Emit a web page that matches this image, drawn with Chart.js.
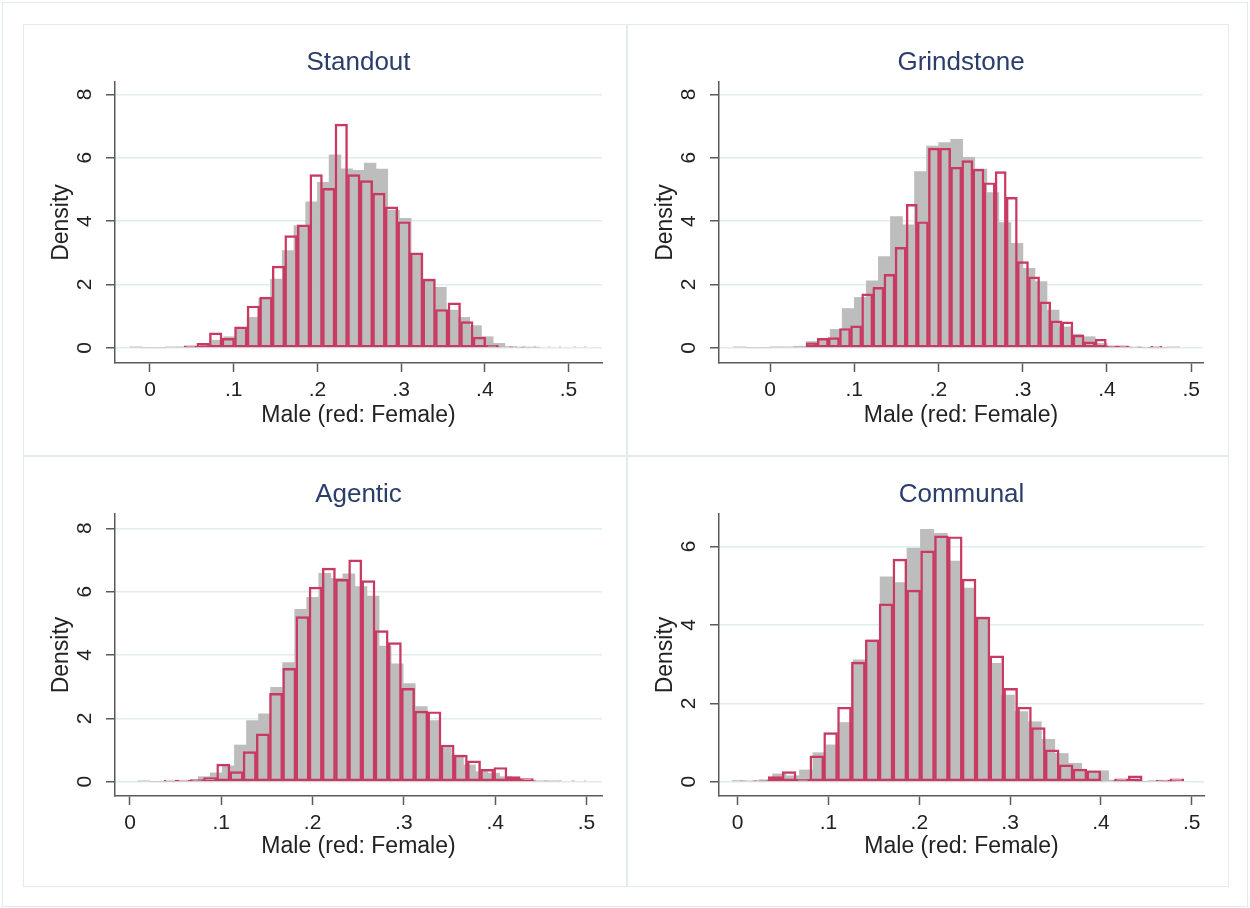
<!DOCTYPE html>
<html>
<head>
<meta charset="utf-8">
<script src="https://cdn.jsdelivr.net/npm/chart.js@4.4.1/dist/chart.umd.min.js"></script>
<style>
  html, body { margin: 0; padding: 0; background: #ffffff; }
  body { width: 1250px; height: 908px; position: relative; overflow: hidden; }
  .line { position: absolute; background: #e3ecec; }
  .box { position: absolute; border: 1px solid #e3ecec; box-sizing: border-box; }
  .panel { position: absolute; }
  .panel canvas { display: block; }
</style>
</head>
<body>
<div class="box" style="left:2px;top:2px;width:1246px;height:905px;"></div>
<div class="box" style="left:23px;top:24px;width:1206px;height:863px;"></div>
<div class="line" style="left:626px;top:24px;width:2px;height:862px;"></div>
<div class="line" style="left:23px;top:455px;width:1205px;height:2px;"></div>

<div class="panel" style="left:23px;top:24px;width:604px;height:432px;"><canvas id="c1"></canvas></div>
<div class="panel" style="left:627px;top:24px;width:601px;height:432px;"><canvas id="c2"></canvas></div>
<div class="panel" style="left:23px;top:456px;width:604px;height:430px;"><canvas id="c3"></canvas></div>
<div class="panel" style="left:627px;top:456px;width:601px;height:430px;"><canvas id="c4"></canvas></div>

<script>
// ---------- Data ----------
const panelTitles = ['Standout', 'Grindstone', 'Agentic', 'Communal'];
const xAxisTitle = 'Male (red: Female)';
const yAxisTitle = 'Density';
const xTickValues = [0, 0.1, 0.2, 0.3, 0.4, 0.5];
const xTickLabels = ['0', '.1', '.2', '.3', '.4', '.5'];
const yTicksTo8 = [0, 2, 4, 6, 8];
const yTicksTo6 = [0, 2, 4, 6];

// Standout
const standoutMaleStart = -0.024, standoutMaleWidth = 0.014;
const standoutMale = [0.03, 0, 0, 0.03, 0.03, 0.03, 0.1, 0.24, 0.35, 0.61, 0.96, 1.56, 2.17, 3.07, 3.86, 4.61, 5.22, 6.09, 5.65, 5.6, 5.83, 5.64, 4.35, 4.09, 2.98, 2.17, 1.91, 1.19, 0.96, 0.7, 0.35, 0.14, 0.04, 0.02, 0.02];
const standoutFemaleStart = 0.041, standoutFemaleWidth = 0.015;
const standoutFemale = [0.06, 0.14, 0.47, 0.3, 0.66, 1.32, 1.6, 2.58, 3.54, 3.88, 5.47, 5.03, 7.06, 5.47, 5.28, 4.88, 4.45, 3.98, 3.0, 2.17, 1.21, 1.42, 0.83, 0.34, 0.08, 0.03, 0.02, 0.03, 0, 0.03, 0, 0.03];

// Grindstone
const grindMaleStart = -0.043, grindMaleWidth = 0.0143;
const grindMale = [0.03, 0, 0, 0.03, 0.03, 0.05, 0.2, 0.3, 0.58, 1.24, 1.59, 2.11, 2.88, 4.14, 3.88, 5.56, 6.37, 6.48, 6.58, 6.01, 5.64, 4.9, 3.95, 3.3, 2.51, 2.09, 1.19, 0.66, 0.43, 0.35, 0.14, 0.04, 0.03, 0.02, 0, 0, 0.03];
const grindFemaleStart = 0.0428, grindFemaleWidth = 0.0132;
const grindFemale = [0.16, 0.3, 0.32, 0.61, 0.69, 1.7, 1.91, 2.32, 3.17, 4.53, 3.98, 6.3, 6.3, 5.7, 5.91, 5.64, 5.21, 5.56, 4.75, 2.72, 2.24, 1.45, 0.85, 0.82, 0.4, 0.19, 0.27, 0.06, 0.06, 0.03, 0.02, 0.05];

// Agentic
const agenticMaleStart = 0.0088, agenticMaleWidth = 0.0132;
const agenticMale = [0.03, 0, 0, 0.02, 0.03, 0.16, 0.28, 0.5, 1.16, 1.93, 2.14, 2.98, 3.76, 5.44, 5.82, 6.58, 6.42, 6.56, 6.16, 5.86, 4.28, 3.72, 3.1, 2.37, 1.93, 1.13, 0.84, 0.53, 0.32, 0.27, 0.16, 0.08, 0.05, 0.03, 0.03];
const agenticFemaleStart = 0.0372, agenticFemaleWidth = 0.01445;
const agenticFemale = [0.05, 0.05, 0.07, 0.13, 0.56, 0.32, 0.95, 1.51, 2.79, 3.58, 5.21, 6.14, 6.74, 6.39, 7.0, 6.35, 4.77, 4.39, 2.95, 2.23, 2.21, 1.16, 0.84, 0.66, 0.39, 0.45, 0.16, 0.1, 0.03, 0, 0.03, 0.03];

// Communal
const communalMaleStart = -0.006, communalMaleWidth = 0.0148;
const communalMale = [0.03, 0.02, 0.05, 0.2, 0.15, 0.3, 0.74, 0.94, 1.51, 3.11, 3.62, 5.23, 5.08, 5.96, 6.44, 6.34, 5.63, 4.94, 4.2, 3.02, 2.21, 1.79, 1.53, 1.08, 0.72, 0.47, 0.28, 0.28, 0.04, 0.03, 0, 0.03, 0];
const communalFemaleStart = 0.0032, communalFemaleWidth = 0.01525;
const communalFemale = [0.02, 0.03, 0.13, 0.26, 0.06, 0.66, 1.25, 1.9, 3.05, 3.62, 4.54, 5.68, 4.89, 5.89, 6.27, 6.25, 5.17, 4.2, 3.21, 2.38, 1.9, 1.38, 0.81, 0.43, 0.32, 0.28, 0.02, 0.07, 0.15, 0, 0.04, 0.07];

// ---------- Styling ----------
const FONT = '"Liberation Sans", Arial, Helvetica, sans-serif';
const TEXT = '#222222';
const TITLE_COLOR = '#2b3d6b';
const AXIS = '#5a5a5a';
const GRID = '#e1ecec';
const MALE_FILL = '#bdbdbd';
const FEMALE_LINE = '#c93a62';

function binPoints(start, width, values) {
  return values.map((v, i) => ({ x: start + width * (i + 0.5), y: v }));
}

function makeChart(id, cfg) {
  const ctx = document.getElementById(id);
  return new Chart(ctx, {
    type: 'bar',
    data: {
      datasets: [
        {
          label: 'Female',
          data: binPoints(cfg.fStart, cfg.fWidth, cfg.female),
          xAxisID: 'x2',
          backgroundColor: 'rgba(0,0,0,0)',
          borderColor: FEMALE_LINE,
          borderWidth: 1.8,
          borderSkipped: false,
          grouped: false,
          barPercentage: 1,
          categoryPercentage: 1,
          order: 0
        },
        {
          label: 'Male',
          data: binPoints(cfg.mStart, cfg.mWidth, cfg.male),
          xAxisID: 'x',
          backgroundColor: MALE_FILL,
          borderWidth: 0,
          grouped: false,
          barPercentage: 1,
          categoryPercentage: 1,
          order: 1
        }
      ]
    },
    options: {
      responsive: true,
      maintainAspectRatio: false,
      animation: false,
      events: [],
      layout: { padding: { left: 0, right: cfg.padRight, top: 0, bottom: 0 } },
      plugins: {
        legend: { display: false },
        tooltip: { enabled: false },
        title: {
          display: true,
          text: cfg.title,
          fullSize: false,
          color: TITLE_COLOR,
          font: { family: FONT, size: 26, weight: 'normal' },
          padding: { top: 23.4, bottom: 3.4 }
        }
      },
      scales: {
        x: {
          type: 'linear',
          position: 'bottom',
          min: cfg.xMin,
          max: cfg.xMax,
          offset: false,
          afterBuildTicks: (s) => { s.ticks = xTickValues.map(v => ({ value: v })); },
          afterFit: (s) => { s.height = cfg.xAxisHeight; },
          ticks: {
            color: TEXT,
            font: { family: FONT, size: 21 },
            padding: 6,
            maxRotation: 0,
            minRotation: 0,
            autoSkip: false,
            callback: (v, i) => xTickLabels[i]
          },
          grid: {
            display: true,
            offset: false,
            drawOnChartArea: false,
            drawTicks: true,
            tickLength: 9,
            tickColor: AXIS,
            tickWidth: 1.5
          },
          border: { display: true, color: AXIS, width: 1.5 },
          title: {
            display: true,
            text: xAxisTitle,
            color: TEXT,
            font: { family: FONT, size: 23 },
            padding: { top: 0, bottom: cfg.xTitlePad }
          }
        },
        x2: {
          type: 'linear',
          display: false,
          min: cfg.xMin,
          max: cfg.xMax,
          offset: false,
          grid: { offset: false }
        },
        y: {
          type: 'linear',
          position: 'left',
          min: cfg.yMin,
          max: cfg.yMax,
          afterBuildTicks: (s) => { s.ticks = cfg.yTicks.map(v => ({ value: v })); },
          afterFit: (s) => { s.width = 92; },
          ticks: {
            color: TEXT,
            font: { family: FONT, size: 21 },
            padding: 15,
            minRotation: 90,
            maxRotation: 90,
            crossAlign: 'center',
            autoSkip: false,
            callback: (v) => String(v)
          },
          grid: {
            display: true,
            drawOnChartArea: true,
            color: GRID,
            lineWidth: 1.5,
            drawTicks: true,
            tickLength: 9,
            tickColor: AXIS,
            tickWidth: 1.5
          },
          border: { display: true, color: AXIS, width: 1.5 },
          title: {
            display: true,
            text: yAxisTitle,
            color: TEXT,
            font: { family: FONT, size: 23 },
            padding: { top: 25, bottom: 0 }
          }
        }
      }
    }
  });
}

makeChart('c1', {
  title: panelTitles[0], male: standoutMale, mStart: standoutMaleStart, mWidth: standoutMaleWidth,
  female: standoutFemale, fStart: standoutFemaleStart, fWidth: standoutFemaleWidth,
  xMin: -0.0418, xMax: 0.540, yMin: -0.48, yMax: 8.39, yTicks: yTicksTo8,
  xAxisHeight: 93, xTitlePad: 26.2, padRight: 25
});
makeChart('c2', {
  title: panelTitles[1], male: grindMale, mStart: grindMaleStart, mWidth: grindMaleWidth,
  female: grindFemale, fStart: grindFemaleStart, fWidth: grindFemaleWidth,
  xMin: -0.0606, xMax: 0.514, yMin: -0.48, yMax: 8.39, yTicks: yTicksTo8,
  xAxisHeight: 93, xTitlePad: 26.2, padRight: 25
});
makeChart('c3', {
  title: panelTitles[2], male: agenticMale, mStart: agenticMaleStart, mWidth: agenticMaleWidth,
  female: agenticFemale, fStart: agenticFemaleStart, fWidth: agenticFemaleWidth,
  xMin: -0.0164, xMax: 0.517, yMin: -0.45, yMax: 8.45, yTicks: yTicksTo8,
  xAxisHeight: 90, xTitlePad: 25.2, padRight: 25
});
makeChart('c4', {
  title: panelTitles[3], male: communalMale, mStart: communalMaleStart, mWidth: communalMaleWidth,
  female: communalFemale, fStart: communalFemaleStart, fWidth: communalFemaleWidth,
  xMin: -0.0206, xMax: 0.5135, yMin: -0.365, yMax: 6.83, yTicks: yTicksTo6,
  xAxisHeight: 90, xTitlePad: 25.2, padRight: 24
});
</script>
</body>
</html>
